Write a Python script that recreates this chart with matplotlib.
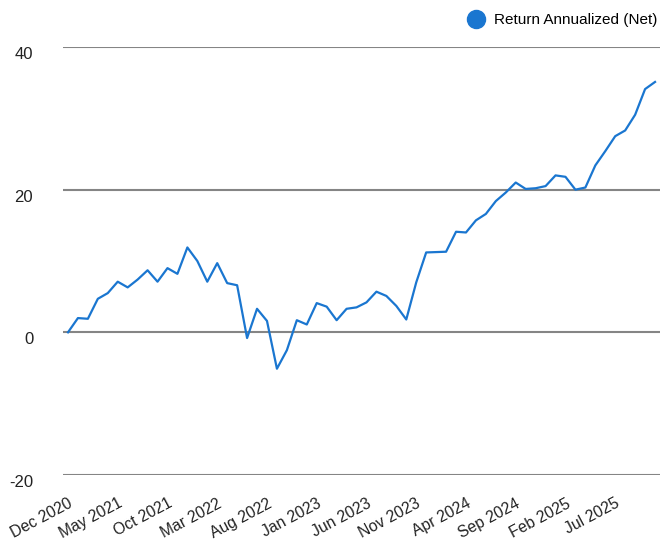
import matplotlib

matplotlib.use("Agg")
import matplotlib.pyplot as plt  # noqa: E402
from matplotlib.lines import Line2D  # noqa: E402
import pandas as pd  # noqa: E402

months = pd.date_range("2020-12-01", "2025-11-01", freq="MS")
month_labels = [m.strftime("%b %Y") for m in months]

returns = [
    0.0, 2.0, 1.9, 4.7, 5.5, 7.1, 6.3, 7.4, 8.7, 7.1,
    9.0, 8.2, 11.9, 10.0, 7.1, 9.7, 6.9, 6.6, -0.8, 3.3,
    1.6, -5.1, -2.5, 1.7, 1.1, 4.1, 3.6, 1.7, 3.3, 3.5,
    4.2, 5.7, 5.1, 3.7, 1.8, 7.0, 11.2, 11.25, 11.3, 14.1,
    14.0, 15.7, 16.6, 18.4, 19.6, 21.0, 20.1, 20.2, 20.5, 22.0,
    21.8, 20.0, 20.3, 23.4, 25.4, 27.5, 28.3, 30.5, 34.1, 35.1,
]
y_ticks = [-20, 0, 20, 40]

blue = "#1a76d0"
grid = "#858585"

plt.rcParams["font.family"] = ["Liberation Sans", "DejaVu Sans"]

fig = plt.figure(figsize=(6.66, 5.42), dpi=100)
ax = fig.add_axes([0.0946, 0.1236, 0.8964, 0.7897])

x = list(range(len(returns)))
ax.plot(x, returns, color=blue, linewidth=1.6)

ax.set_xlim(-0.5, len(returns) - 0.5)
ax.set_ylim(-20, 40)
ax.set_yticks(y_ticks)
ax.set_yticklabels([str(t) for t in y_ticks], fontsize=12)
ax.yaxis.grid(True, color=grid, linewidth=1.5)
ax.set_axisbelow(True)

tick_idx = x[::5]
ax.set_xticks(tick_idx)
ax.set_xticklabels([month_labels[i] for i in tick_idx], rotation=28,
                   ha="right", rotation_mode="anchor", fontsize=11.3)

ax.tick_params(axis="both", length=0, colors="#222222")
ax.tick_params(axis="y", pad=21.5)
for lbl in ax.get_yticklabels():
    lbl.set_horizontalalignment("right")
    lbl.set_verticalalignment("top")
ax.tick_params(axis="x", pad=15)
for s in ax.spines.values():
    s.set_visible(False)

handle = Line2D([], [], marker="o", linestyle="none", color=blue,
                markersize=13)
fig.legend([handle], ["Return Annualized (Net)"], loc="upper right",
           bbox_to_anchor=(1.003, 0.995), frameon=False, fontsize=11,
           handletextpad=0.2, borderaxespad=0.3)

fig.savefig("out.png", dpi=100)
